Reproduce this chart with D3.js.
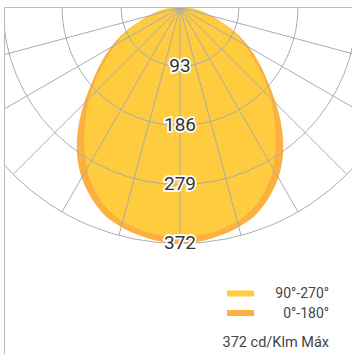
<!DOCTYPE html>
<html>
<head>
<meta charset="utf-8">
<script src="https://cdn.jsdelivr.net/npm/d3@7"></script>
<style>
  body { margin: 0; background: #fff; }
  svg { display: block; font-family: Roboto, "Noto Sans", sans-serif; }
</style>
</head>
<body>
<div id="chart"></div>
<script>
// angles from nadir (deg), mirrored on both sides
var angles = [0, 5, 10, 15, 20, 25, 30, 35, 40, 45, 50, 55, 60, 65, 70, 75, 80, 85, 90];
// plane C0-C180 (cd/klm)
var plane0_180 = [372, 370, 365, 358, 348, 331, 310, 283, 250, 214, 180, 152, 126, 100, 72, 52, 36, 22, 8];
// plane C90-C270 (cd/klm)
var plane90_270 = [362, 360, 356, 349, 337, 318, 293, 263, 232, 202, 172, 142, 118, 96, 70, 50, 35, 20, 8];
var ringValues = [93, 186, 279, 372];
var spokeAngles = [-90, -75, -60, -45, -30, -15, 0, 15, 30, 45, 60, 75, 90];
var seriesNames = ["90°-270°", "0°-180°"];
var maxLabel = "372 cd/Klm Máx";

var W = 352, H = 354;
var cx = 180, cy = 7.5;
var colors = {"90°-270°": "#ffcb3f", "0°-180°": "#fbb040"};

var svg = d3.select("#chart").append("svg").attr("width", W).attr("height", H);

svg.append("clipPath").attr("id", "frame")
  .append("rect").attr("x", 4.5).attr("y", 7.5).attr("width", W).attr("height", H);

var r = d3.scaleLinear().domain([0, 372]).range([0, 236]);

var g = svg.append("g").attr("clip-path", "url(#frame)")
  .append("g").attr("transform", "translate(" + cx + "," + cy + ")");

// build a symmetric curve: -90 .. 0 .. 90
function fullCurve(vals) {
  var pts = [];
  for (var i = angles.length - 1; i > 0; i--) pts.push([-angles[i], vals[i]]);
  for (var j = 0; j < angles.length; j++) pts.push([angles[j], vals[j]]);
  return pts;
}

var line = d3.lineRadial()
  .angle(function(d) { return Math.PI - d[0] * Math.PI / 180; })
  .radius(function(d) { return r(d[1]); })
  .curve(d3.curveCatmullRomClosed);

g.append("path").attr("d", line(fullCurve(plane0_180))).attr("fill", colors["0°-180°"]);
g.append("path").attr("d", line(fullCurve(plane90_270))).attr("fill", colors["90°-270°"]);

// grid rings
g.selectAll("circle.ring").data(ringValues).enter().append("circle")
  .attr("class", "ring")
  .attr("r", function(d) { return r(d); })
  .attr("fill", "none").attr("stroke", "#ababab").attr("stroke-width", 1);

// spokes
g.selectAll("line.spoke").data(spokeAngles).enter().append("line")
  .attr("class", "spoke")
  .attr("x1", 0).attr("y1", 0)
  .attr("x2", function(d) { return r(372) * Math.sin(d * Math.PI / 180); })
  .attr("y2", function(d) { return r(372) * Math.cos(d * Math.PI / 180); })
  .attr("stroke", "#ababab").attr("stroke-width", 1);

// frame
svg.append("line").attr("x1", 4.5).attr("y1", 7.5).attr("x2", 4.5).attr("y2", H)
  .attr("stroke", "#bcbcbc").attr("stroke-width", 1);
svg.append("line").attr("x1", 4.5).attr("y1", 7.5).attr("x2", W).attr("y2", 7.5)
  .attr("stroke", "#bcbcbc").attr("stroke-width", 1);

// ring labels
g.selectAll("text.rl").data(ringValues).enter().append("text")
  .attr("class", "rl")
  .attr("x", 0)
  .attr("y", function(d) { return r(d) + 5.5; })
  .attr("text-anchor", "middle")
  .attr("font-size", 19)
  .attr("fill", "#333")
  .attr("stroke", "#fff").attr("stroke-width", 3.5)
  .attr("paint-order", "stroke")
  .text(function(d) { return d; });

// legend
var legend = svg.append("g");
seriesNames.forEach(function(name, i) {
  legend.append("rect")
    .attr("x", 227).attr("y", 290.5 + i * 19.5)
    .attr("width", 27).attr("height", 6)
    .attr("fill", colors[name]);
  legend.append("text")
    .attr("x", 329).attr("y", 298 + i * 19.5)
    .attr("text-anchor", "end")
    .attr("font-size", 14)
    .attr("fill", "#444")
    .text(name);
});
legend.append("text")
  .attr("x", 329).attr("y", 347)
  .attr("text-anchor", "end")
  .attr("font-size", 14.5)
  .attr("fill", "#444")
  .text(maxLabel);
</script>
</body>
</html>
